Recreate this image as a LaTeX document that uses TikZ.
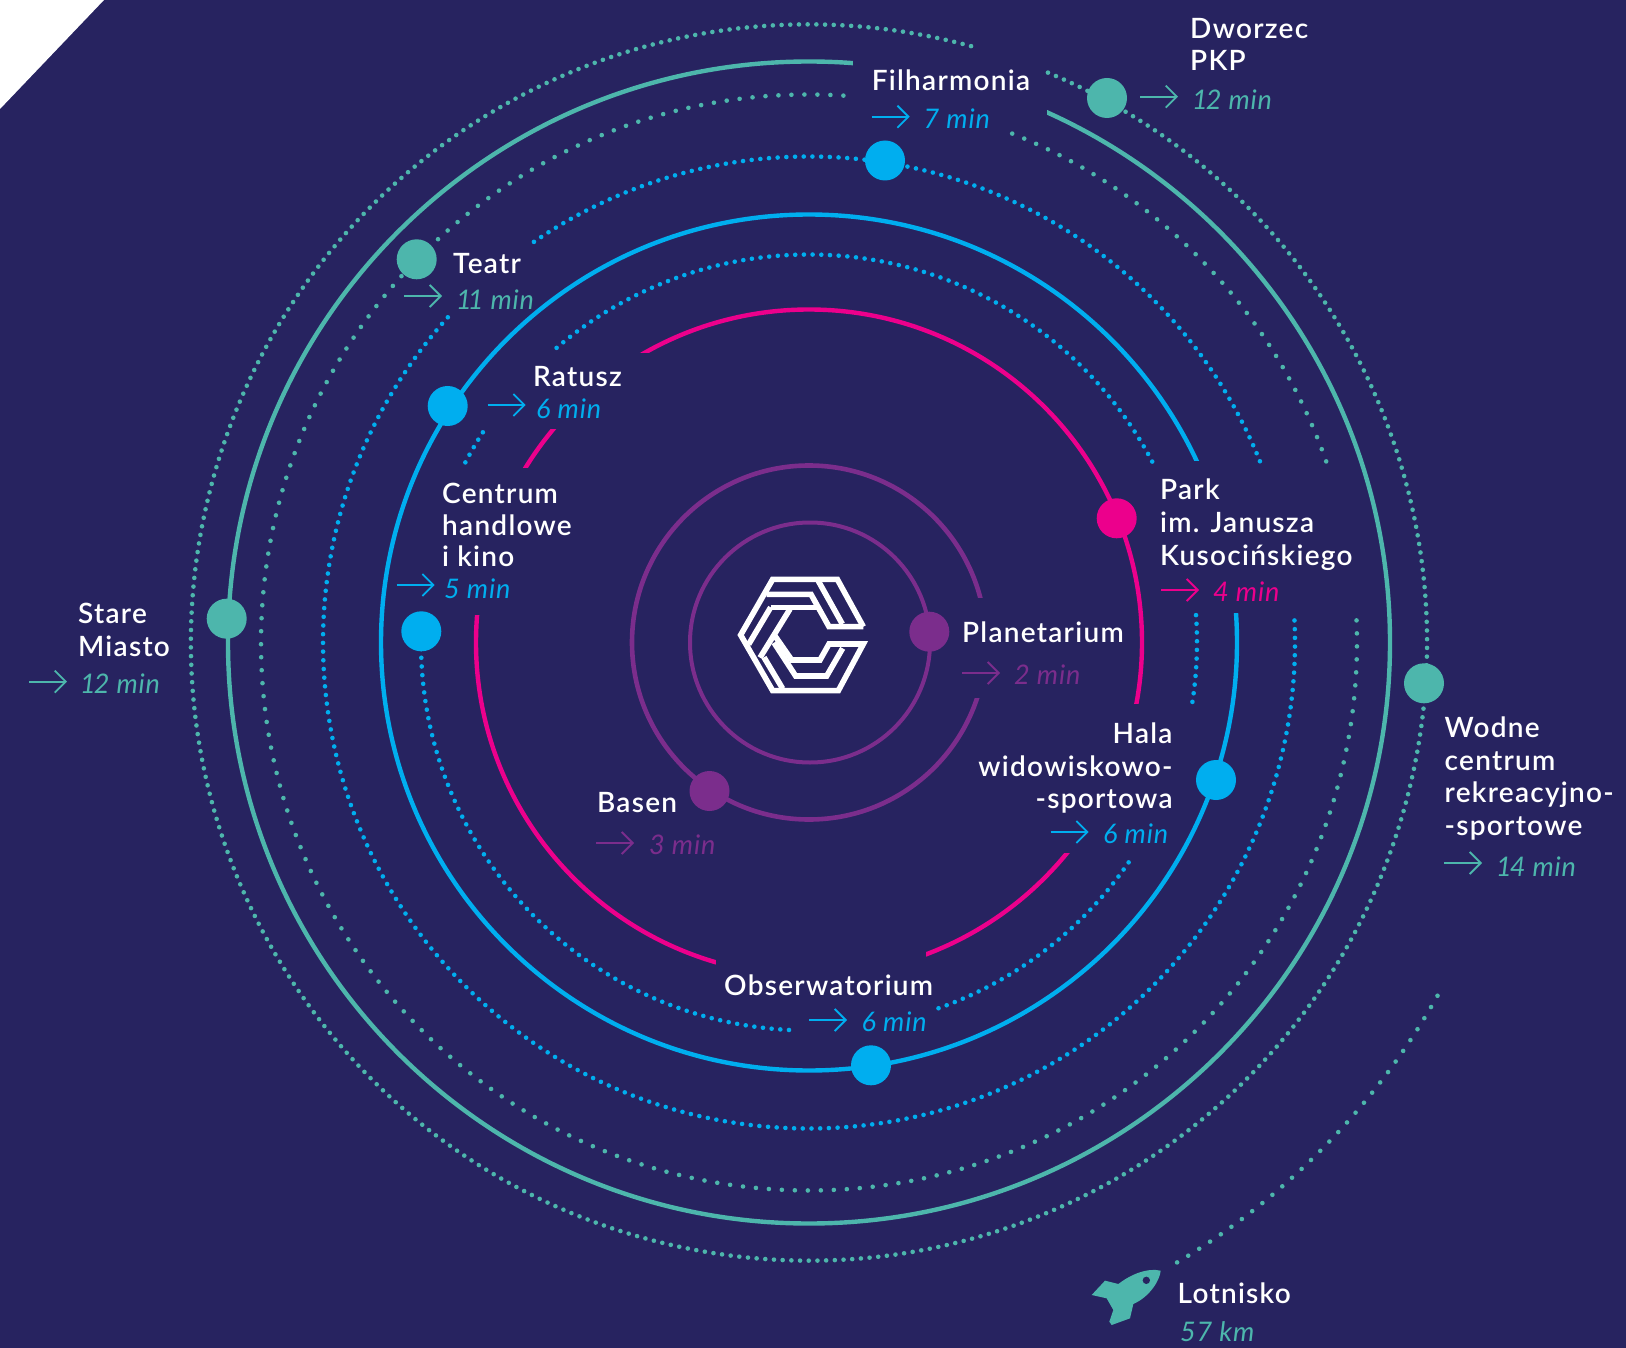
\documentclass[tikz,border=0pt]{standalone}
\usepackage{fontspec}
\usetikzlibrary{arrows.meta}
\newfontfamily\titlef[LetterSpace=4.5]{Lato Semibold}
\newfontfamily\timef[LetterSpace=3]{Lato Italic}
\definecolor{bgc}{RGB}{39,35,96}
\definecolor{tealc}{RGB}{77,182,172}
\definecolor{bluec}{RGB}{0,174,239}
\definecolor{pinkc}{RGB}{236,0,140}
\definecolor{purplec}{RGB}{123,45,140}
\tikzset{
  solidring/.style={line width=4.4pt,line cap=butt},
  dotring/.style={line width=4.6pt,line cap=round,dash pattern=on 0pt off 8.7pt},
  sparsering/.style={line width=4.6pt,line cap=round,dash pattern=on 0pt off 13pt},
  cover/.style={fill=bgc,draw=none},
  station/.style={circle,minimum size=40pt,inner sep=0pt,draw=none},
  ttl/.style={text=white,inner sep=0pt,anchor=base west,align=left,font=\titlef\fontsize{28}{32.7}\selectfont},
  ttr/.style={text=white,inner sep=0pt,anchor=base east,align=right,font=\titlef\fontsize{28}{32.7}\selectfont},
  tm/.style={inner sep=0pt,anchor=base west,font=\timef\fontsize{27}{32}\selectfont},
  tarrowst/.style={line width=1.8pt,-{Straight Barb[length=11pt,width=22pt,line width=1.8pt]}},
  logoline/.style={draw=white,line width=5.6pt,miter limit=10}
}
\newcommand{\ringarc}[4]{\draw[#1] ([shift={(#3:#2pt)}]c) arc[start angle=#3,end angle=#4,radius=#2pt];}
\newcommand{\tarrow}[3]{\draw[tarrowst,#3] (#1,-#2) -- ++(38,0);}
\begin{document}
\begin{tikzpicture}[x=1pt,y=1pt]
\useasboundingbox (0,0) rectangle (1626,-1348);
\fill[bgc] (0,0) rectangle (1626,-1348);
\fill[white] (0,0) -- (104,0) -- (0,-109) -- cycle;
\coordinate (c) at (809,-642.5);
\coordinate (ci) at (810,-642.5);
% solid rings
\draw[solidring,draw=purplec,line width=4pt] (ci) circle[radius=120pt];
\draw[solidring,draw=purplec,line width=4.6pt] (c) circle[radius=177pt];
\draw[solidring,draw=pinkc] (c) circle[radius=333pt];
\draw[solidring,draw=bluec] (c) circle[radius=428pt];
\draw[solidring,draw=tealc] (c) circle[radius=581pt];
% cuts where labels sit
\fill[cover] (950,-597.7) rectangle (1005,-698);
\fill[cover] (520,-353) rectangle (700,-429);
\fill[cover] (465,-468) rectangle (560,-615);
\fill[cover] (1060,-704) rectangle (1150,-853);
\fill[cover] (716,-940) rectangle (926,-985);
\fill[cover] (1180,-461) rectangle (1250,-613);
\fill[cover] (853,-52) rectangle (1047,-130);
% dotted rings
\ringarc{dotring,draw=bluec}{388}{27.8}{131.8}
\ringarc{dotring,draw=bluec}{388}{147.2}{152.4}
\ringarc{dotring,draw=bluec}{388}{-8.8}{4.4}
\ringarc{dotring,draw=bluec}{388}{-70.5}{-33.8}
\ringarc{dotring,draw=bluec}{388}{178.4}{267.5}
\ringarc{dotring,draw=bluec}{486}{21.9}{125.3}
\ringarc{dotring,draw=bluec}{486}{138}{363.5}
\ringarc{sparsering,draw=tealc}{548}{86.4}{363.1}
\ringarc{sparsering,draw=tealc}{548}{19.3}{68.7}
\ringarc{dotring,draw=tealc}{618}{74.8}{427.4}
\ringarc{sparsering,draw=tealc}{721}{-59.3}{-28.8}
% stations
\node[station,fill=bluec] (filhN) at (885,-160.5) {};
\node[station,fill=tealc] (dworN) at (1107,-98) {};
\node[station,fill=tealc] (teatN) at (416.7,-259.3) {};
\node[station,fill=bluec] (ratuN) at (447.7,-406) {};
\node[station,fill=bluec] (centN) at (421.3,-631.3) {};
\node[station,fill=tealc] (stareN) at (226.7,-618.7) {};
\node[station,fill=pinkc] (parkN) at (1116.7,-518.3) {};
\node[station,fill=tealc] (wodnN) at (1424,-683.3) {};
\node[station,fill=bluec] (halaN) at (1216,-780) {};
\node[station,fill=bluec] (obsN) at (871,-1065.3) {};
\node[station,fill=purplec] (planN) at (929.3,-631.7) {};
\node[station,fill=purplec] (baseN) at (709.5,-791) {};
% labels
\node[ttl] (filhL) at (871.7,-90.8) {Filharmonia};
\tarrow{871.7}{116.7}{draw=bluec}
\node[tm,text=bluec] (filhT) at (923.5,-128.5) {7 min};
\node[ttl] (dworL) at (1190,-71) {Dworzec\\PKP};
\tarrow{1140}{96.7}{draw=tealc}
\node[tm,text=tealc] (dworT) at (1192,-109.5) {1\kern-2pt 2 min};
\node[ttl] (teatL) at (453,-273.5) {Teatr};
\tarrow{404}{296}{draw=tealc}
\node[tm,text=tealc] (teatT) at (456,-309.5) {1\kern-4pt 1 min};
\node[ttl] (ratuL) at (533,-387) {Ratusz};
\tarrow{487.7}{405}{draw=bluec}
\node[tm,text=bluec] (ratuT) at (536,-418.5) {6 min};
\node[ttl] (centL) at (442,-566.5) {Centrum\\[-1.2pt]handlowe\\[-1.2pt]i kino};
\tarrow{396.7}{585}{draw=bluec}
\node[tm,text=bluec] (centT) at (444,-598.5) {5 min};
\node[ttl] (stareL) at (78,-656.5) {Stare\\Miasto};
\tarrow{29}{681.7}{draw=tealc}
\node[tm,text=tealc] (stareT) at (80,-693) {1\kern-2pt 2 min};
\node[ttl] (parkL) at (1160,-565) {Park\\im. Janusza\\Kusocińskiego};
\tarrow{1161}{590}{draw=pinkc}
\node[tm,text=pinkc] (parkT) at (1213,-601.5) {4 min};
\node[ttr] (halaL) at (1172.7,-808.7) {Hala\\widowiskowo-\\-sportowa};
\tarrow{1050.7}{832}{draw=bluec}
\node[tm,text=bluec] (halaT) at (1103,-843.5) {6 min};
\node[ttl] (obsL) at (724,-995) {Obserwatorium};
\tarrow{809}{1020}{draw=bluec}
\node[tm,text=bluec] (obsT) at (861.5,-1031.5) {6 min};
\node[ttl] (planL) at (962,-642.5) {Planetarium};
\tarrow{962}{673}{draw=purplec}
\node[tm,text=purplec] (planT) at (1014,-684) {2 min};
\node[ttl] (baseL) at (597,-812) {Basen};
\tarrow{596}{843}{draw=purplec}
\node[tm,text=purplec] (baseT) at (649,-854.5) {3 min};
\node[ttl] (wodnL) at (1444.5,-835.5) {Wodne\\centrum\\rekreacyjno-\\-sportowe};
\tarrow{1444}{863}{draw=tealc}
\node[tm,text=tealc] (wodnT) at (1496,-876.5) {1\kern-2pt 4 min};
\node[ttl] (lotnL) at (1177.5,-1303.5) {Lotnisko};
\node[tm,text=tealc] (lotnT) at (1180,-1341) {57 km};
% logo
\begin{scope}[shift={(650,-500)},x=0.33333pt,y=-0.33333pt]
\draw[logoline] (640,380) -- (562,238) -- (368,238) -- (272,405) -- (368,572) -- (565,572) -- (640,432) -- (537,432) -- (510,480) -- (425,480) -- (375,408);
\draw[logoline] (640,380) -- (537,380) -- (483,283) -- (350,283);
\draw[logoline] (362,322) -- (504,322);
\draw[logoline] (362,322) -- (296,433);
\draw[logoline] (420,327) -- (330,473);
\draw[logoline] (505,243) -- (577,372);
\draw[logoline] (372,428) -- (437,528) -- (530,528) -- (578,445);
\draw[logoline] (342,472) -- (398,566);
\end{scope}
% rocket
\begin{scope}[shift={(1050,-1180)},x=0.33333pt,y=-0.33333pt]
\fill[tealc] (332,272) .. controls (290,262) and (240,285) .. (205,312) -- (165,302) -- (125,345) -- (170,355) -- (190,390) -- (178,425) -- (185,435) -- (240,415) -- (250,372) .. controls (300,350) and (330,300) .. (332,272) -- cycle;
\fill[bgc] (289,301) circle[radius=11];
\end{scope}
\end{tikzpicture}
\end{document}
